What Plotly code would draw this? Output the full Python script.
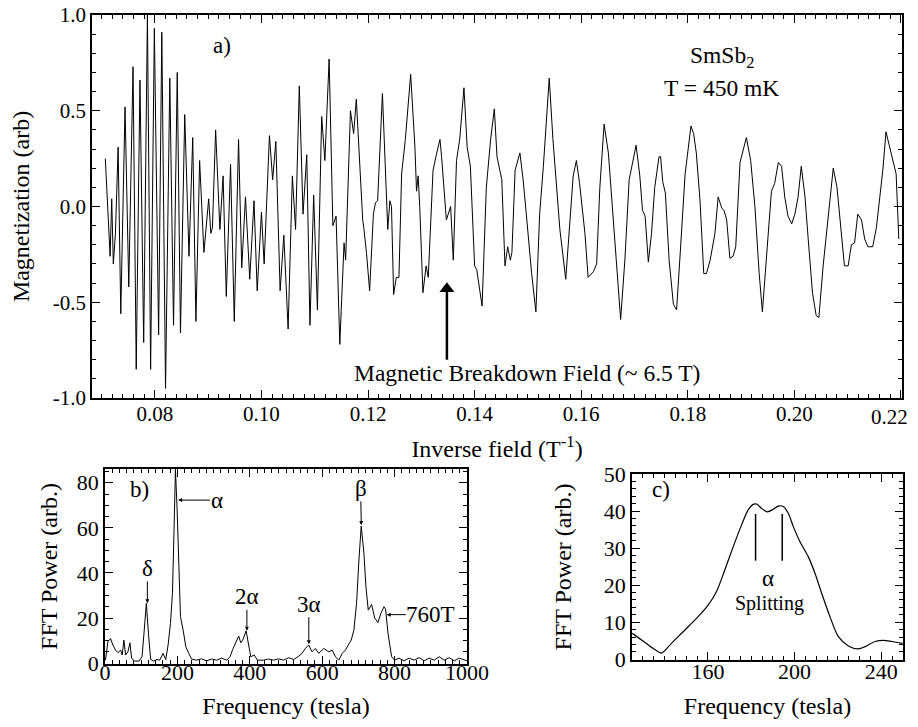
import plotly.graph_objects as go

# ---------------- data ----------------
# panel a: de Haas-van Alphen magnetization vs inverse field
inv_field = [
    0.0707, 0.0714, 0.0716, 0.0719, 0.0722, 0.0726, 0.0731, 0.0736, 0.0744, 0.0751,
    0.0759, 0.0765, 0.0772, 0.0779, 0.0786, 0.0792, 0.0799, 0.0807, 0.0813, 0.0820,
    0.0828, 0.0835, 0.0842, 0.0848, 0.0856, 0.0864, 0.0871, 0.0877, 0.0884, 0.0892,
    0.0901, 0.0905, 0.0908, 0.0914, 0.0922, 0.0928, 0.0934, 0.0942, 0.0949, 0.0957,
    0.0963, 0.0970, 0.0978, 0.0986, 0.0992, 0.1000, 0.1005, 0.1015, 0.1021, 0.1027,
    0.1035, 0.1042, 0.1050, 0.1058, 0.1064, 0.1071, 0.1078, 0.1085, 0.1091, 0.1098,
    0.1105, 0.1113, 0.1119, 0.1127, 0.1134, 0.1140, 0.1147,
    0.1155, 0.1158, 0.1167, 0.1173, 0.1178, 0.1185, 0.1190, 0.1192, 0.1197, 0.1203,
    0.1210, 0.1214, 0.1218, 0.1227, 0.1233, 0.1237, 0.1241, 0.1244, 0.1248, 0.1253,
    0.1258, 0.1263, 0.1270, 0.1280, 0.1288, 0.1291, 0.1294, 0.1297, 0.1303, 0.1309,
    0.1313, 0.1322, 0.1329, 0.1335, 0.1338, 0.1347, 0.1355, 0.1360, 0.1366, 0.1372,
    0.1380, 0.1386, 0.1392, 0.1400, 0.1404, 0.1414, 0.1422, 0.1430, 0.1437, 0.1442,
    0.1451, 0.1457, 0.1462, 0.1467, 0.1470, 0.1476, 0.1485, 0.1491, 0.1497, 0.1507,
    0.1515, 0.1522, 0.1529, 0.1534, 0.1540, 0.1547, 0.1560, 0.1571, 0.1579, 0.1585,
    0.1591, 0.1597, 0.1607, 0.1613, 0.1623, 0.1629, 0.1635, 0.1643, 0.1651, 0.1660,
    0.1668, 0.1674, 0.1682, 0.1690,
    0.1703, 0.1710, 0.1715, 0.1720, 0.1726, 0.1732, 0.1738, 0.1746, 0.1749, 0.1753,
    0.1758, 0.1765, 0.1773, 0.1779, 0.1785, 0.1795, 0.1806, 0.1811, 0.1816, 0.1823,
    0.1830, 0.1835, 0.1842, 0.1851, 0.1857, 0.1864, 0.1868, 0.1873, 0.1879, 0.1885,
    0.1890, 0.1898, 0.1910, 0.1918, 0.1926, 0.1934, 0.1940, 0.1948, 0.1957, 0.1963,
    0.1970, 0.1976, 0.1982, 0.1988, 0.1995, 0.2001, 0.2007, 0.2013, 0.2020, 0.2026,
    0.2034, 0.2041, 0.2046, 0.2054, 0.2063, 0.2073, 0.2080, 0.2088, 0.2094, 0.2101,
    0.2107, 0.2113, 0.2119, 0.2126, 0.2132, 0.2138, 0.2147, 0.2154, 0.2160, 0.2166,
    0.2172, 0.2179, 0.2185, 0.2191, 0.2196,
]
magnetization = [
    0.25, -0.14, -0.26, 0.04, -0.30, -0.14, 0.31, -0.56, 0.52, -0.42,
    0.73, -0.85, 0.66, -0.71, 1.00, -0.85, 0.93, -0.67, 0.91, -0.95,
    0.67, -0.62, 0.70, -0.66, 0.48, -0.26, 0.36, -0.60, 0.24, -0.24,
    0.04, -0.14, -0.11, 0.40, -0.12, 0.16, -0.47, 0.22, -0.60, 0.35,
    -0.32, 0.05, -0.38, 0.03, -0.44, -0.03, -0.30, 0.37, 0.14, 0.34,
    -0.44, -0.15, -0.64, 0.16, -0.12, 0.63, -0.04, 0.27, -0.62, 0.06,
    -0.54, 0.47, 0.24, 0.77, -0.10, -0.05, -0.72,
    -0.19, -0.28, 0.50, 0.38, 0.56, 0.17, -0.07, -0.11, -0.24, -0.44,
    -0.04, 0.02, 0.03, 0.59, 0.14, -0.12, 0.03, 0.00, -0.46, -0.37,
    -0.37, 0.17, 0.35, 0.69, 0.31, 0.08, 0.16, 0.00, -0.45, -0.31,
    -0.37, 0.19, 0.28, 0.35, 0.26, -0.07, 0.00, -0.28, 0.24, 0.35,
    0.62, 0.31, 0.21, -0.31, -0.33, -0.52, 0.10, 0.35, 0.51, 0.26,
    0.14, -0.31, -0.21, -0.28, -0.24, 0.19, 0.28, 0.14, -0.04, -0.35,
    -0.55, -0.04, 0.21, 0.45, 0.67, 0.35, -0.12, -0.38, -0.04, 0.16,
    0.24, 0.12, -0.14, -0.37, -0.34, -0.30, 0.10, 0.43, 0.28, -0.05,
    -0.38, -0.59, -0.28, 0.14,
    0.32, 0.16, -0.02, -0.05, -0.29, -0.14, 0.10, 0.26, 0.26, 0.13,
    0.07, -0.28, -0.51, -0.54, -0.28, 0.17, 0.42, 0.38, 0.28, 0.03,
    -0.35, -0.35, -0.28, -0.14, 0.05, -0.01, -0.02, -0.07, -0.27, -0.26,
    -0.21, 0.23, 0.36, 0.24, 0.00, -0.35, -0.55, -0.24, 0.08, 0.12,
    0.23, 0.21, 0.05, -0.05, -0.09, -0.04, 0.05, 0.21, 0.05, -0.17,
    -0.45, -0.57, -0.58, -0.31, -0.05, 0.20, 0.10, -0.12, -0.31, -0.31,
    -0.20, -0.19, -0.04, -0.07, -0.17, -0.21, -0.21, -0.11, 0.05, 0.19,
    0.39, 0.31, 0.24, 0.17, -0.17,
]

# panel b: FFT spectrum
fft_freq = [
    1.4, 7.9, 15.3, 21.7, 29.1, 36.5, 43.0, 47.6, 52.2, 56.9,
    63.3, 68.9, 73.5, 81.8, 93.8, 102.2, 107.7, 114.2, 120.7, 126.2,
    134.5, 143.8, 151.2, 160.4, 167.8, 174.3, 180.8, 186.3, 190.9, 194.6,
    199.3, 203.9, 208.5, 215.9, 223.3, 231.6, 239.0, 252.9, 266.8, 280.6,
    294.5, 308.4, 322.3, 336.1, 345.4, 352.8, 362.0, 369.4, 375.0, 380.5,
    389.8, 396.3, 402.7, 412.0, 421.2, 437.8, 451.7, 465.6, 479.4, 493.3,
    507.2, 521.1, 533.1, 544.2, 553.5, 562.7, 572.0, 581.1, 590.4, 604.3,
    618.2, 627.5, 636.6, 645.9, 655.2, 664.3, 673.6, 680.1, 687.5, 694.9,
    701.4, 707.8, 715.2, 720.8, 727.2, 736.5, 745.0, 754.0, 762.0, 770.7,
    775.0, 781.8, 791.8, 800.3, 812.3, 826.2, 840.0, 853.9, 867.8, 881.7,
    895.5, 909.4, 923.2, 937.1, 951.0, 964.9, 978.7, 992.6, 1000.0,
]
fft_power = [
    1.3, 9.5, 10.9, 8.0, 5.8, 4.6, 5.8, 3.6, 10.2, 3.6,
    5.0, 9.0, 2.1, 0.9, 0.9, 2.8, 13.2, 26.5, 11.7, 1.6,
    0.9, 1.6, 1.3, 4.3, 1.6, 8.0, 17.6, 30.9, 60.5, 86.0,
    67.9, 45.7, 20.6, 14.6, 7.2, 4.3, 1.8, 1.3, 1.9, 1.0,
    1.8, 1.3, 2.2, 1.3, 2.8, 6.1, 9.5, 12.0, 9.0, 10.2,
    14.3, 8.0, 2.8, 3.6, 1.3, 1.3, 1.8, 1.3, 1.9, 1.3,
    2.4, 1.6, 2.8, 4.3, 6.5, 8.0, 5.0, 6.5, 4.3, 6.5,
    5.0, 5.8, 2.8, 1.3, 4.3, 5.8, 8.7, 10.2, 14.6, 26.5,
    45.7, 60.8, 48.8, 33.9, 23.5, 26.0, 20.0, 18.0, 22.0, 25.0,
    24.0, 13.2, 2.8, 1.3, 2.2, 1.0, 2.2, 1.3, 2.4, 1.0,
    2.2, 1.3, 2.8, 1.3, 2.4, 1.0, 2.2, 1.6, 1.0,
]

# panel c: zoom on the alpha peak
zoom_freq = [
    125.1, 129.4, 134.0, 137.8, 138.9, 143.2, 149.4, 155.5, 160.2, 164.0,
    167.8, 171.7, 175.5, 178.6, 180.9, 182.5, 184.8, 187.5, 190.2, 192.8,
    194.8, 197.1, 199.4, 202.5, 206.3, 209.4, 212.5, 216.3, 220.2, 224.8,
    229.4, 232.5, 237.1, 241.0, 244.8, 249.8,
]
zoom_power = [
    7.0, 5.2, 3.2, 1.8, 1.7, 4.3, 7.9, 11.5, 14.7, 18.3,
    24.1, 30.4, 36.2, 40.3, 41.8, 41.9, 40.7, 39.8, 40.5, 41.4,
    41.2, 39.4, 35.8, 31.7, 27.7, 23.2, 17.8, 11.5, 6.1, 3.6,
    2.8, 3.4, 4.8, 5.1, 4.8, 4.3,
]

# tick labels (the last top-panel label sits on the page edge, drawn separately)
a_xticks = [0.08, 0.10, 0.12, 0.14, 0.16, 0.18, 0.20, 0.22]
a_xticktext = ["0.08", "0.10", "0.12", "0.14", "0.16", "0.18", "0.20", ""]
a_last_label = "0.22"
a_yticks = [-1.0, -0.5, 0.0, 0.5, 1.0]
a_yticktext = ["-1.0", "-0.5", "0.0", "0.5", "1.0"]
b_xticks = [0, 200, 400, 600, 800, 1000]
b_yticks = [0, 20, 40, 60, 80]
c_xticks = [160, 200, 240]
c_yticks = [0, 10, 20, 30, 40, 50]

# peak labels for panel b: (text, label_x, label_y, arrow_head_x, arrow_head_y)
b_labels = [("δ", 117, 42.0, 117, 26.5), ("α", 308, 72.3, 202, 72.3),
            ("2α", 392, 29.4, 392, 14.3), ("3α", 563, 26.2, 563, 8.4),
            ("β", 706, 77.5, 708, 61.2), ("760T", 900, 21.5, 778, 21.5)]
# breakdown-field arrow in panel a: inverse field, tail and head magnetization
breakdown_x = 0.1348
breakdown_arrow_y = [-0.80, -0.43]
# splitting markers in panel c
split_freqs = [182.0, 194.3]
split_span = [26.6, 39.2]

assert len(inv_field) == len(magnetization)
assert len(fft_freq) == len(fft_power)
assert len(zoom_freq) == len(zoom_power)

# ---------------- figure ----------------
FONT = "Liberation Serif"
OFF = 8                      # page body margin of the browser
FW, FH = 918 - 2 * OFF, 727 - 2 * OFF   # fits the window without scrollbars


def dx(p0, p1):
    return [(p0 - OFF) / FW, (p1 - OFF) / FW]


def dy(top, bottom):
    return [1 - (bottom - OFF) / FH, 1 - (top - OFF) / FH]


fig = go.Figure()
fig.add_trace(go.Scatter(x=inv_field, y=magnetization, mode="lines",
                         line=dict(color="black", width=1), xaxis="x", yaxis="y",
                         showlegend=False, hoverinfo="skip"))
fig.add_trace(go.Scatter(x=fft_freq, y=fft_power, mode="lines",
                         line=dict(color="black", width=1), xaxis="x2", yaxis="y2",
                         showlegend=False, hoverinfo="skip"))
fig.add_trace(go.Scatter(x=zoom_freq, y=zoom_power, mode="lines",
                         line=dict(color="black", width=1.2, shape="spline", smoothing=0.8),
                         xaxis="x3", yaxis="y3", showlegend=False, hoverinfo="skip"))
# breakdown arrow: shaft + triangular head
fig.add_trace(go.Scatter(x=[breakdown_x, breakdown_x], y=breakdown_arrow_y,
                         mode="lines", line=dict(color="black", width=2.5),
                         xaxis="x", yaxis="y", showlegend=False, hoverinfo="skip"))
fig.add_trace(go.Scatter(x=[breakdown_x], y=[breakdown_arrow_y[1]], mode="markers",
                         marker=dict(symbol="triangle-up", size=13, color="black",
                                     line=dict(width=0)),
                         xaxis="x", yaxis="y", showlegend=False, hoverinfo="skip"))
# splitting markers
for fx in split_freqs:
    fig.add_trace(go.Scatter(x=[fx, fx], y=split_span, mode="lines",
                             line=dict(color="black", width=1.5), xaxis="x3", yaxis="y3",
                             showlegend=False, hoverinfo="skip"))

TICKFONT = dict(family=FONT, size=21, color="black")
TICKFONT_B = dict(family=FONT, size=22, color="black")


def ax(**kw):
    base = dict(showline=True, linecolor="black", linewidth=1.5, mirror="ticks",
                ticks="inside", ticklen=8, tickwidth=1, tickcolor="black",
                showgrid=False, zeroline=False, automargin=False,
                ticklabeloverflow="allow", tickfont=TICKFONT)
    base.update(kw)
    return base


def minor_ax(over, anchor, rng, tick0, dtick):
    return dict(overlaying=over, anchor=anchor, range=rng, tickmode="linear",
                tick0=tick0, dtick=dtick, ticks="inside", ticklen=4, tickwidth=1,
                tickcolor="black", showticklabels=False, showline=False,
                mirror="ticks", showgrid=False, zeroline=False, automargin=False)


title_font = dict(family=FONT, size=24, color="black")

A_X = [0.0682, 0.2202]
A_Y = [-1.0, 1.0]
B_X = [0, 1000]
B_Y = [-0.4, 86.1]
C_X = [125, 250]
C_Y = [-0.2, 50]

fig.update_layout(
    width=FW, height=FH, margin=dict(l=0, r=0, t=0, b=0, autoexpand=False),
    paper_bgcolor="white", plot_bgcolor="white", showlegend=False,
    font=dict(family=FONT, color="black"),
    xaxis=ax(domain=dx(92, 902), range=A_X, anchor="y",
             tickmode="array", tickvals=a_xticks, ticktext=a_xticktext,
             ticklabelstandoff=-4,
             title=dict(text="Inverse field (T<sup>-1</sup>)", font=title_font, standoff=15)),
    yaxis=ax(domain=dy(15, 398), range=A_Y, anchor="x",
             tickmode="array", tickvals=a_yticks, ticktext=a_yticktext,
             title=dict(text="Magnetization (arb)", font=title_font, standoff=20)),
    xaxis2=ax(domain=dx(105, 467), range=B_X, anchor="y2",
              tickmode="array", tickvals=b_xticks, ticklabelstandoff=-12,
              tickfont=TICKFONT_B,
              title=dict(text="Frequency (tesla)", font=title_font, standoff=16)),
    yaxis2=ax(domain=dy(469, 664), range=B_Y, anchor="x2",
              tickmode="array", tickvals=b_yticks, ticklabelstandoff=0,
              tickfont=TICKFONT_B,
              title=dict(text="FFT Power (arb.)", font=title_font, standoff=12)),
    xaxis3=ax(domain=dx(632, 903), range=C_X, anchor="y3",
              tickmode="array", tickvals=c_xticks, ticklabelstandoff=-9,
              tickfont=TICKFONT_B,
              title=dict(text="Frequency (tesla)", font=title_font, standoff=16)),
    yaxis3=ax(domain=dy(474, 660), range=C_Y, anchor="x3",
              tickmode="array", tickvals=c_yticks,
              tickfont=TICKFONT_B,
              title=dict(text="FFT Power (arb.)", font=title_font, standoff=25)),
    xaxis4=minor_ax("x", "y", A_X, 0.08, 0.002),
    yaxis4=minor_ax("y", "x", A_Y, 0.0, 0.1),
    xaxis5=minor_ax("x2", "y2", B_X, 0, 20),
    yaxis5=minor_ax("y2", "x2", B_Y, 0, 5),
    xaxis6=minor_ax("x3", "y3", C_X, 160, 5),
    yaxis6=minor_ax("y3", "x3", C_Y, 0, 2),
)
# empty traces so the minor-tick overlay axes are drawn
for i in (4, 5, 6):
    fig.add_trace(go.Scatter(x=[], y=[], xaxis=f"x{i}", yaxis=f"y{i}",
                             showlegend=False, hoverinfo="skip"))

txt = dict(family=FONT, size=23, color="black")
big = dict(family=FONT, size=23.5, color="black")
ann = []
# last tick label of panel a, kept inside the page edge
ann.append(dict(x=1.0, y=1 - (417 - OFF) / FH, xref="paper", yref="paper",
                xanchor="right", yanchor="middle", text=a_last_label,
                showarrow=False, font=TICKFONT))
# panel a texts
ann.append(dict(x=0.0926, y=0.84, xref="x", yref="y", text="a)", showarrow=False, font=txt))
ann.append(dict(x=0.1864, y=0.78, xref="x", yref="y", text="SmSb<sub>2</sub>",
                showarrow=False, font=big))
ann.append(dict(x=0.1864, y=0.62, xref="x", yref="y", text="T = 450 mK",
                showarrow=False, font=big))
ann.append(dict(x=0.1498, y=-0.868, xref="x", yref="y",
                text="Magnetic Breakdown Field (~ 6.5 T)", showarrow=False, font=big))
# panel b texts with arrows
ann.append(dict(x=96, y=77, xref="x2", yref="y2", text="b)", showarrow=False, font=txt))
for t, lx, ly, hx, hy in b_labels:
    ann.append(dict(x=hx, y=hy, ax=lx, ay=ly, xref="x2", yref="y2", axref="x2",
                    ayref="y2", text=t, showarrow=True, arrowhead=2, arrowsize=0.8,
                    arrowwidth=1, arrowcolor="black", font=txt, borderpad=0))
# panel c texts
ann.append(dict(x=138.6, y=45.9, xref="x3", yref="y3", text="c)", showarrow=False, font=txt))
ann.append(dict(x=187.8, y=21.9, xref="x3", yref="y3", text="α", showarrow=False, font=txt))
ann.append(dict(x=188.6, y=15.1, xref="x3", yref="y3", text="Splitting", showarrow=False,
                font=dict(family=FONT, size=20, color="black")))
fig.update_layout(annotations=ann)

fig.write_html("out.html")
